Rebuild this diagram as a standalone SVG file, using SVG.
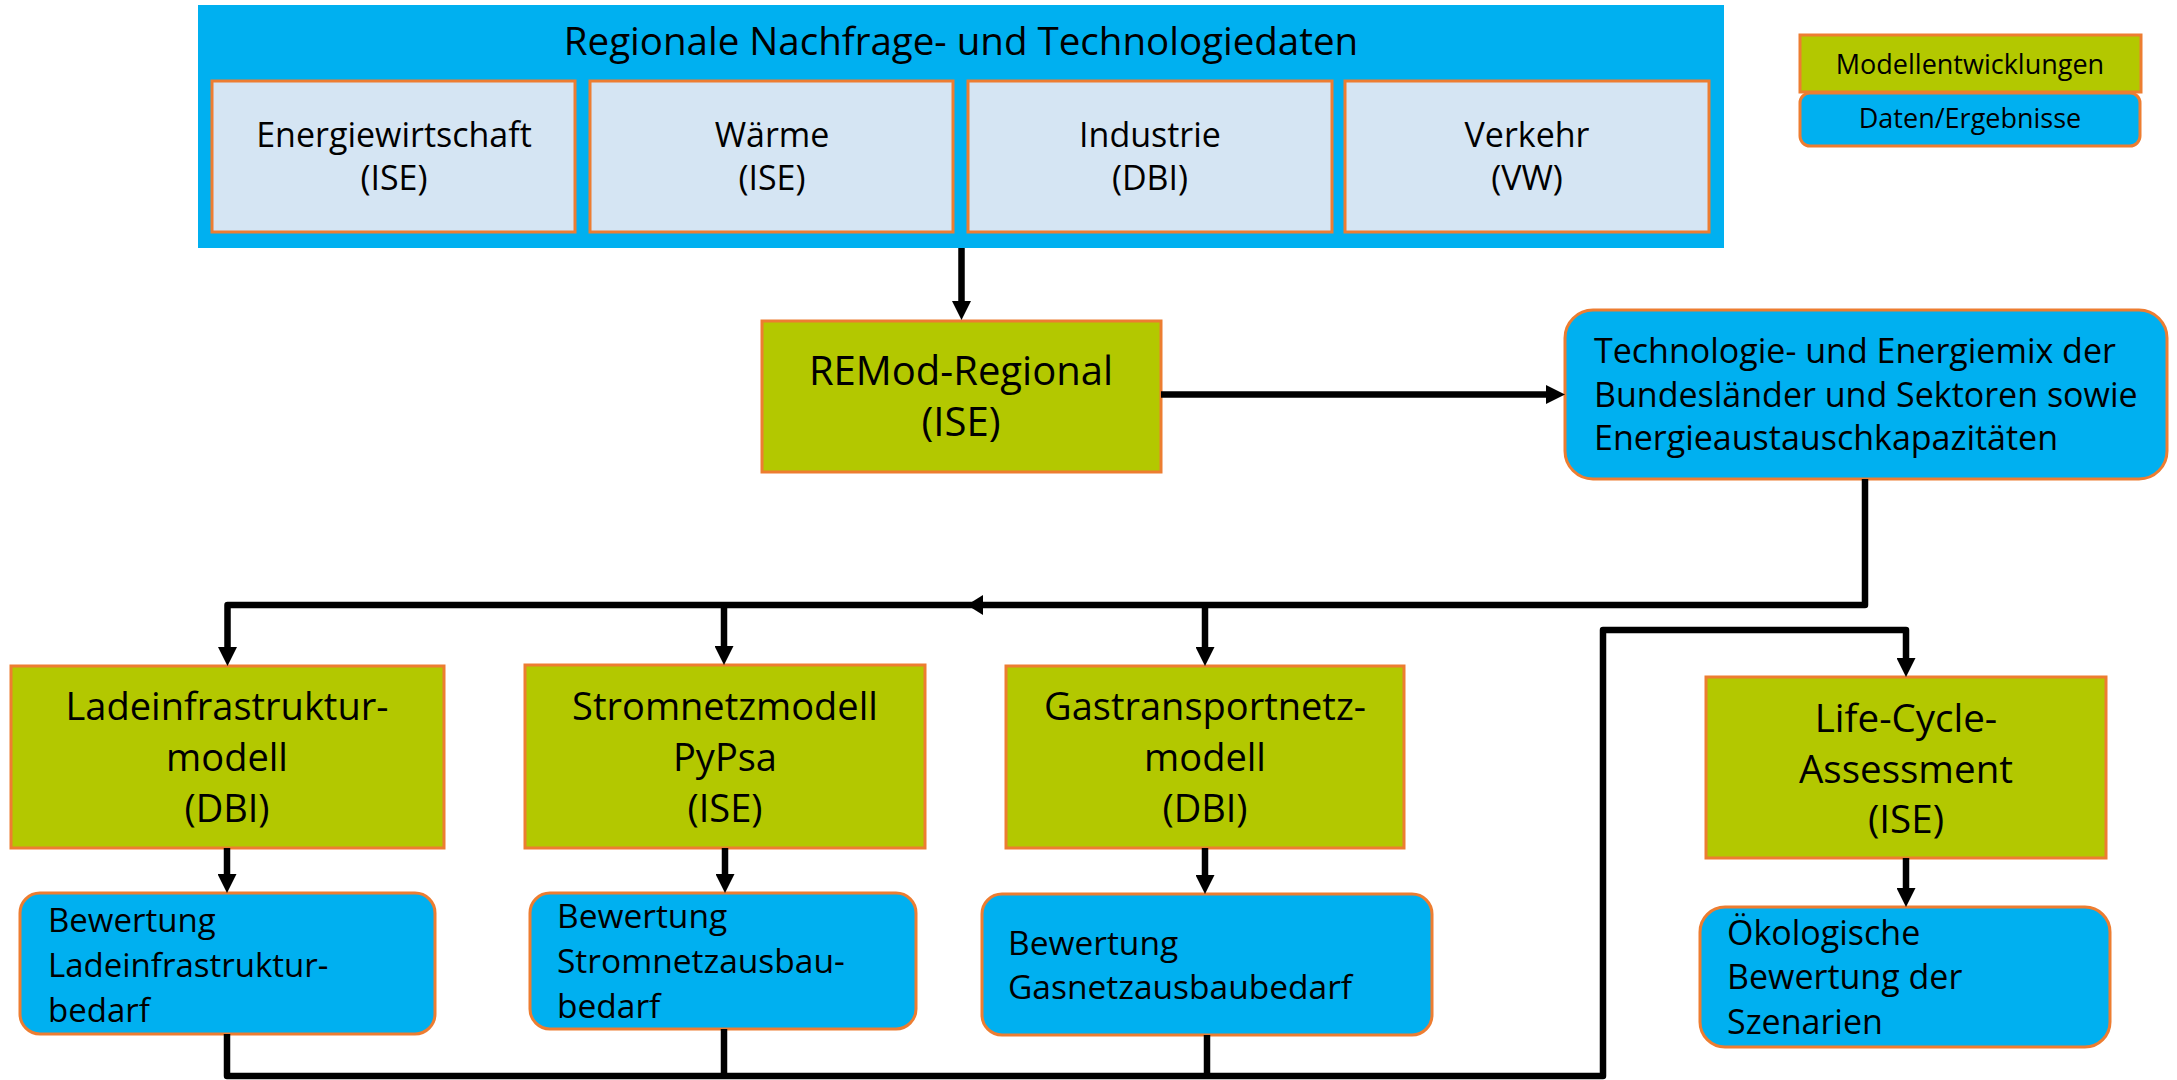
<svg xmlns="http://www.w3.org/2000/svg" width="2177" height="1080" viewBox="0 0 2177 1080">
<style>
  text { font-family: "Open Sans", "Noto Sans", "Liberation Sans", sans-serif; fill: #000; }
  .c { text-anchor: middle; }
  .green { fill: #B3C800; stroke: #ED7D31; stroke-width: 3; }
  .blue { fill: #00B0F0; stroke: #ED7D31; stroke-width: 3; }
  .light { fill: #D5E5F3; stroke: #ED7D31; stroke-width: 3; }
  .ln { fill: none; stroke: #000; stroke-width: 6.5; stroke-linejoin: round; }
</style>
<defs>
  <marker id="ah" viewBox="0 0 19 19" markerWidth="19" markerHeight="19" markerUnits="userSpaceOnUse" refX="1" refY="9.5" orient="auto">
    <path d="M0,0 L19,9.5 L0,19 z" fill="#000"/>
  </marker>
</defs>

<g id="legend">
  <rect class="green" x="1800" y="35" width="341" height="57"/>
  <text class="c" x="1970" y="74" font-size="27">Modellentwicklungen</text>
  <rect class="blue" x="1800" y="93" width="340" height="53" rx="10"/>
  <text class="c" x="1970" y="128" font-size="27">Daten/Ergebnisse</text>
</g>

<g id="regionale-daten">
  <rect x="198" y="5" width="1526" height="243" fill="#00B0F0"/>
  <text class="c" x="961" y="55" font-size="38.5">Regionale Nachfrage- und Technologiedaten</text>
  <g id="energiewirtschaft">
    <rect class="light" x="212" y="81" width="363" height="151"/>
    <text class="c" x="394" y="147" font-size="34">Energiewirtschaft</text>
    <text class="c" x="394" y="190" font-size="34">(ISE)</text>
  </g>
  <g id="waerme">
    <rect class="light" x="590" y="81" width="363" height="151"/>
    <text class="c" x="772" y="147" font-size="34">Wärme</text>
    <text class="c" x="772" y="190" font-size="34">(ISE)</text>
  </g>
  <g id="industrie">
    <rect class="light" x="968" y="81" width="364" height="151"/>
    <text class="c" x="1150" y="147" font-size="34">Industrie</text>
    <text class="c" x="1150" y="190" font-size="34">(DBI)</text>
  </g>
  <g id="verkehr">
    <rect class="light" x="1345" y="81" width="364" height="151"/>
    <text class="c" x="1527" y="147" font-size="34">Verkehr</text>
    <text class="c" x="1527" y="190" font-size="34">(VW)</text>
  </g>
</g>

<g id="remod">
  <rect class="green" x="762" y="321" width="399" height="151"/>
  <text class="c" x="961" y="385" font-size="40">REMod-Regional</text>
  <text class="c" x="961" y="436" font-size="40">(ISE)</text>
</g>

<g id="technologiemix">
  <rect class="blue" x="1565" y="310" width="602" height="169" rx="28"/>
  <text x="1594" y="363" font-size="34">Technologie- und Energiemix der</text>
  <text x="1594" y="407" font-size="34">Bundesländer und Sektoren sowie</text>
  <text x="1594" y="450" font-size="34">Energieaustauschkapazitäten</text>
</g>

<g id="ladeinfrastrukturmodell">
  <rect class="green" x="11" y="666" width="433" height="182"/>
  <text class="c" x="227" y="720" font-size="38">Ladeinfrastruktur-</text>
  <text class="c" x="227" y="771" font-size="38">modell</text>
  <text class="c" x="227" y="822" font-size="38">(DBI)</text>
</g>

<g id="stromnetzmodell">
  <rect class="green" x="525" y="665" width="400" height="183"/>
  <text class="c" x="725" y="720" font-size="38">Stromnetzmodell</text>
  <text class="c" x="725" y="771" font-size="38">PyPsa</text>
  <text class="c" x="725" y="822" font-size="38">(ISE)</text>
</g>

<g id="gastransportnetzmodell">
  <rect class="green" x="1006" y="666" width="398" height="182"/>
  <text class="c" x="1205" y="720" font-size="38">Gastransportnetz-</text>
  <text class="c" x="1205" y="771" font-size="38">modell</text>
  <text class="c" x="1205" y="822" font-size="38">(DBI)</text>
</g>

<g id="lca">
  <rect class="green" x="1706" y="677" width="400" height="181"/>
  <text class="c" x="1906" y="732" font-size="38.5">Life-Cycle-</text>
  <text class="c" x="1906" y="783" font-size="38.5">Assessment</text>
  <text class="c" x="1906" y="833" font-size="38.5">(ISE)</text>
</g>

<g id="bewertung-lade">
  <rect class="blue" x="20" y="893" width="415" height="141" rx="20"/>
  <text x="48" y="932" font-size="33">Bewertung</text>
  <text x="48" y="977" font-size="33">Ladeinfrastruktur-</text>
  <text x="48" y="1022" font-size="33">bedarf</text>
</g>

<g id="bewertung-strom">
  <rect class="blue" x="530" y="893" width="386" height="136" rx="20"/>
  <text x="557" y="928" font-size="33.5">Bewertung</text>
  <text x="557" y="973" font-size="33.5">Stromnetzausbau-</text>
  <text x="557" y="1018" font-size="33.5">bedarf</text>
</g>

<g id="bewertung-gas">
  <rect class="blue" x="982" y="894" width="450" height="141" rx="20"/>
  <text x="1008" y="955" font-size="33.5">Bewertung</text>
  <text x="1008" y="999" font-size="33.5">Gasnetzausbaubedarf</text>
</g>

<g id="oekologische-bewertung">
  <rect class="blue" x="1700" y="907" width="410" height="140" rx="25"/>
  <text x="1727" y="945" font-size="34">Ökologische</text>
  <text x="1727" y="989" font-size="34">Bewertung der</text>
  <text x="1727" y="1034" font-size="34">Szenarien</text>
</g>

<g id="connectors">
  <path class="ln" d="M961.5,248 V302" marker-end="url(#ah)"/>
  <path class="ln" d="M1161,394.5 H1547" marker-end="url(#ah)"/>
  <path class="ln" d="M1865,479 V605 H227.5 V648" marker-end="url(#ah)"/>
  <polygon points="967,605 983,595 983,615" fill="#000"/>
  <path class="ln" d="M724,605 V647" marker-end="url(#ah)"/>
  <path class="ln" d="M1205,605 V648" marker-end="url(#ah)"/>
  <path class="ln" d="M227,848 V875" marker-end="url(#ah)"/>
  <path class="ln" d="M725,848 V875" marker-end="url(#ah)"/>
  <path class="ln" d="M1205,848 V876" marker-end="url(#ah)"/>
  <path class="ln" d="M1906,858 V889" marker-end="url(#ah)"/>
  <path class="ln" d="M227,1034 V1076 H1603 V630 H1906 V659" marker-end="url(#ah)"/>
  <path class="ln" d="M724,1029 V1076"/>
  <path class="ln" d="M1207,1035 V1076"/>
</g>
</svg>
